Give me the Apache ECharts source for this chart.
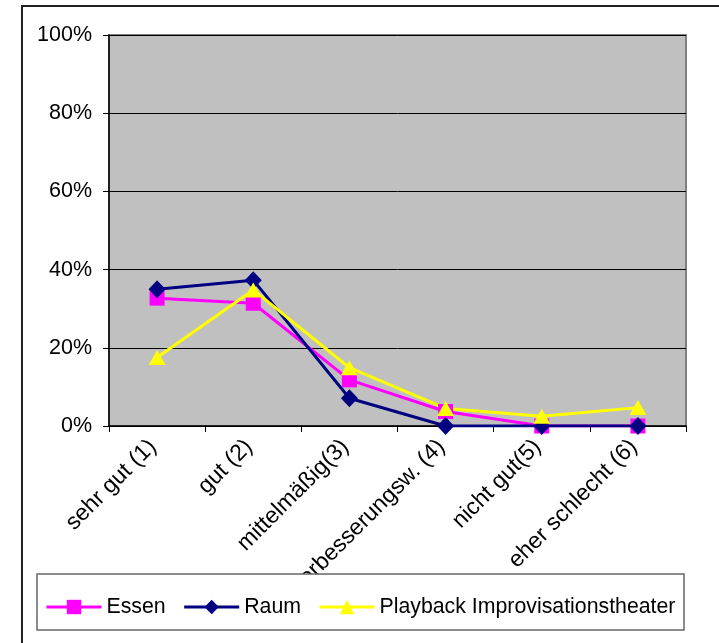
<!DOCTYPE html>
<html>
<head>
<meta charset="utf-8">
<script src="https://cdn.jsdelivr.net/npm/echarts@6/dist/echarts.min.js"></script>
<style>
html,body{margin:0;padding:0;background:#fff;}
#c{width:719px;height:643px;}
</style>
</head>
<body>
<div id="c"></div>
<script>
var categories = ['sehr gut (1)', 'gut (2)', 'mittelmäßig(3)', 'verbesserungsw. (4)', 'nicht gut(5)', 'eher schlecht (6)'];
var essen = [32.7, 31.4, 11.8, 3.7, 0, 0];
var raum = [35.0, 37.3, 7.1, 0, 0, 0];
var playback = [17.5, 34.8, 14.9, 4.5, 2.5, 4.7];
var yTicks = [0, 20, 40, 60, 80, 100];

var FONT = 'Liberation Sans, Arial, sans-serif';
var chart = echarts.init(document.getElementById('c'), null, {renderer: 'canvas'});
chart.setOption({
  animation: false,
  backgroundColor: '#ffffff',
  textStyle: {fontFamily: FONT},
  graphic: [
    {type: 'rect', z: 1, silent: true,
     shape: {x: 22, y: 6, width: 720, height: 660},
     style: {fill: 'none', stroke: '#222', lineWidth: 2}},
    {type: 'rect', z: 100, silent: true,
     shape: {x: 37, y: 574, width: 647, height: 56},
     style: {fill: '#ffffff', stroke: '#666', lineWidth: 1.5}}
  ],
  grid: {
    left: 109, right: 33, top: 35, bottom: 217,
    show: true, backgroundColor: '#C0C0C0', borderColor: '#808080', borderWidth: 2
  },
  legend: {
    z: 110,
    left: 40, top: 590,
    itemWidth: 55, itemHeight: 18, itemGap: 17,
    lineStyle: {width: 3},
    textStyle: {fontSize: 21.3, color: '#000', fontFamily: FONT, lineHeight: 24},
    data: ['Essen', 'Raum', 'Playback Improvisationstheater']
  },
  xAxis: {
    type: 'category',
    data: categories,
    boundaryGap: true,
    axisLine: {show: true, lineStyle: {color: '#000', width: 1.5}},
    axisTick: {show: true, interval: 0, length: 6, lineStyle: {color: '#000'}},
    axisLabel: {interval: 0, rotate: 45, margin: 13, padding: [0, 6, 0, 0], fontSize: 23, color: '#000', fontFamily: FONT},
    splitLine: {show: false}
  },
  yAxis: {
    type: 'value',
    min: 0, max: 100, interval: 20,
    axisLine: {show: true, lineStyle: {color: '#000', width: 1.5}},
    axisTick: {show: true, length: 6, lineStyle: {color: '#000'}},
    axisLabel: {margin: 17, fontSize: 21.5, color: '#000', fontFamily: FONT,
      formatter: function (v) { return yTicks.indexOf(v) >= 0 ? v + '%' : ''; }},
    splitLine: {show: true, lineStyle: {color: '#000', width: 1}}
  },
  series: [
    {name: 'Essen', type: 'line', data: essen,
     symbol: 'rect', symbolSize: 15,
     lineStyle: {color: '#FF00FF', width: 3},
     itemStyle: {color: '#FF00FF'}},
    {name: 'Raum', type: 'line', data: raum,
     symbol: 'diamond', symbolSize: [17, 18],
     lineStyle: {color: '#000080', width: 3},
     itemStyle: {color: '#000080'}},
    {name: 'Playback Improvisationstheater', type: 'line', data: playback,
     symbol: 'triangle', symbolSize: [17, 15],
     lineStyle: {color: '#FFFF00', width: 3},
     itemStyle: {color: '#FFFF00'}}
  ]
});
</script>
</body>
</html>
